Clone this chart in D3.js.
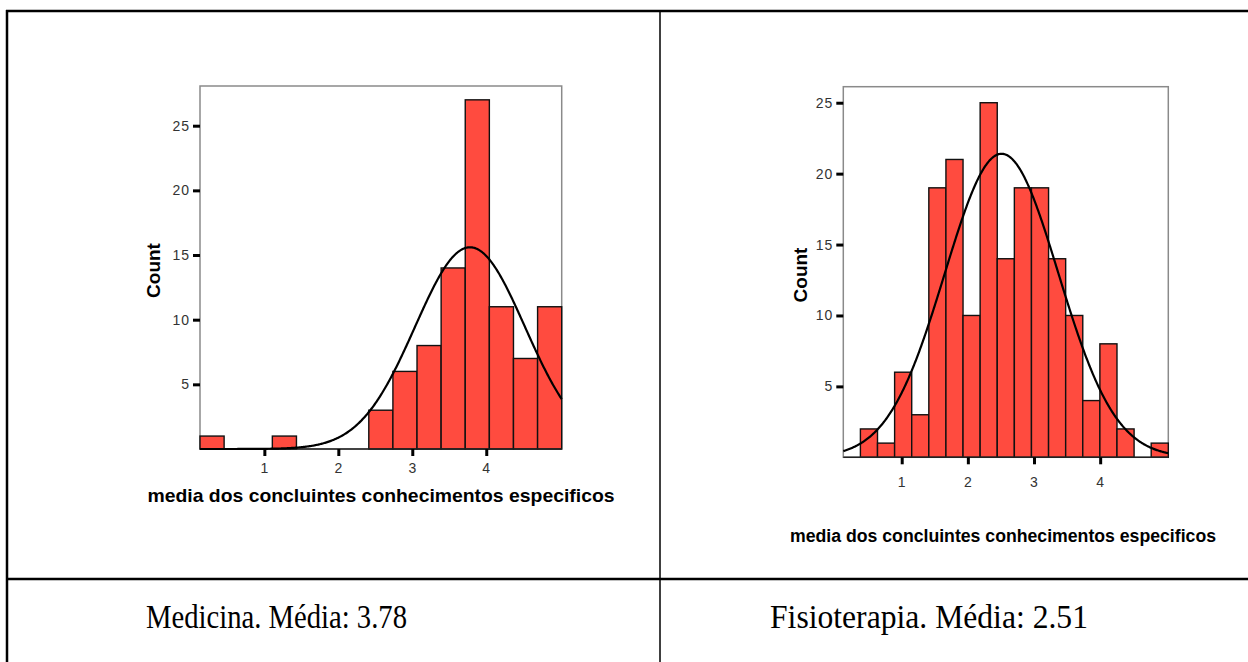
<!DOCTYPE html>
<html>
<head>
<meta charset="utf-8">
<script src="https://d3js.org/d3.v7.min.js"></script>
<style>
  body { margin: 0; background: #fff; }
  svg { display: block; }
</style>
</head>
<body>
<div id="svgdiv"></div>
<script>
// Data
var medRange = [0.13, 5.02];          // x range covered by the histogram bins
var medCounts = [1, 0, 0, 1, 0, 0, 0, 3, 6, 8, 14, 27, 11, 7, 11];
var medMean = 3.78, medSd = 0.742;

var fisRange = [0.117, 5.03];
var fisCounts = [0, 2, 1, 6, 3, 19, 21, 10, 25, 14, 19, 19, 14, 10, 4, 8, 2, 0, 1];
var fisMean = 2.51, fisSd = 0.858;

var yTicks = [5, 10, 15, 20, 25];
var xTicks = [1, 2, 3, 4];
var xTitle = "media dos concluintes conhecimentos especificos";
var captions = ["Medicina. Média: 3.78", "Fisioterapia. Média: 2.51"];

var svgWidth = 1248, svgHeight = 662;

var svg = d3.select("#svgdiv")
    .append("svg")
    .attr("width", svgWidth)
    .attr("height", svgHeight);

// table grid lines
svg.append("line").attr("x1", 6).attr("x2", svgWidth).attr("y1", 11).attr("y2", 11)
    .attr("stroke", "#000").attr("stroke-width", 2.5);
svg.append("line").attr("x1", 7).attr("x2", 7).attr("y1", 10).attr("y2", svgHeight)
    .attr("stroke", "#000").attr("stroke-width", 2.5);
svg.append("line").attr("x1", 660).attr("x2", 660).attr("y1", 11).attr("y2", svgHeight)
    .attr("stroke", "#000").attr("stroke-width", 1.5);
svg.append("line").attr("x1", 6).attr("x2", svgWidth).attr("y1", 579).attr("y2", 579)
    .attr("stroke", "#000").attr("stroke-width", 2.5);

function styleTicks(axisG) {
    axisG.select(".domain").remove();
    axisG.selectAll(".tick line").attr("stroke", "#000").attr("stroke-width", 3);
    axisG.selectAll(".tick text")
        .attr("font-family", "Liberation Sans, Arial, sans-serif")
        .attr("font-size", "14px")
        .attr("letter-spacing", "1px")
        .attr("fill", "#333");
}

function drawHist(opt) {
    var g = svg.append("g");
    var x = d3.scaleLinear().domain(opt.range).range([opt.left, opt.right]);
    var y = d3.scaleLinear().domain([0, opt.yMax]).range([opt.bottom, opt.top]);

    var n = opt.counts.length;
    var binW = (opt.range[1] - opt.range[0]) / n;
    var bins = opt.counts.map(function(c, i) {
        return { x0: opt.range[0] + i * binW, x1: opt.range[0] + (i + 1) * binW, count: c };
    });

    // frame
    g.append("rect")
        .attr("x", opt.left).attr("y", opt.top)
        .attr("width", opt.right - opt.left).attr("height", opt.bottom - opt.top)
        .attr("fill", "none").attr("stroke", "#8a8a8a").attr("stroke-width", 1.5);

    g.selectAll("rect.bar")
        .data(bins.filter(function(d) { return d.count > 0; }))
        .enter()
        .append("rect")
            .attr("class", "bar")
            .attr("x", function(d) { return x(d.x0); })
            .attr("y", function(d) { return y(d.count); })
            .attr("width", function(d) { return x(d.x1) - x(d.x0); })
            .attr("height", function(d) { return y(0) - y(d.count); })
            .attr("fill", "#ff4b3f")
            .attr("stroke", "#111")
            .attr("stroke-width", 1.4);

    // bottom line
    g.append("line")
        .attr("x1", opt.left).attr("x2", opt.right)
        .attr("y1", opt.bottom).attr("y2", opt.bottom)
        .attr("stroke", "#222").attr("stroke-width", 1.5);

    // normal curve
    var total = d3.sum(opt.counts);
    var pts = d3.range(opt.range[0], opt.range[1] + 0.001, 0.01).map(function(v) {
        var z = (v - opt.mean) / opt.sd;
        return [v, total * binW * Math.exp(-0.5 * z * z) / (opt.sd * Math.sqrt(2 * Math.PI))];
    });
    g.append("path")
        .datum(pts)
        .attr("fill", "none")
        .attr("stroke", "#000")
        .attr("stroke-width", 2.2)
        .attr("d", d3.line().x(function(d) { return x(d[0]); }).y(function(d) { return y(d[1]); }));

    // axes
    var leftAxis = d3.axisLeft(y).tickValues(yTicks).tickSize(7).tickPadding(3)
        .tickFormat(d3.format("d"));
    var yAxis = g.append("g").attr("transform", "translate(" + opt.left + ",0)").call(leftAxis);
    styleTicks(yAxis);

    var bottomAxis = d3.axisBottom(x).tickValues(xTicks).tickSize(7).tickPadding(opt.xPad)
        .tickFormat(d3.format("d"));
    var xAxis = g.append("g").attr("transform", "translate(0," + opt.bottom + ")").call(bottomAxis);
    styleTicks(xAxis);

    // titles
    g.append("text")
        .attr("transform", "translate(" + opt.countX + "," + ((opt.top + opt.bottom) / 2 + 3) + ") rotate(-90)")
        .attr("text-anchor", "middle")
        .attr("font-family", "Liberation Sans, Arial, sans-serif")
        .attr("font-weight", "bold")
        .attr("font-size", "19px")
        .text("Count");

    g.append("text")
        .attr("x", opt.titleX)
        .attr("y", opt.titleY)
        .attr("text-anchor", "middle")
        .attr("font-family", "Liberation Sans, Arial, sans-serif")
        .attr("font-weight", "bold")
        .attr("font-size", opt.titleSize + "px")
        .attr("textLength", opt.titleLen)
        .attr("lengthAdjust", "spacingAndGlyphs")
        .text(xTitle);
}

drawHist({
    range: medRange, counts: medCounts, mean: medMean, sd: medSd,
    left: 200, right: 561.7, top: 86, bottom: 449, yMax: 28.07,
    xPad: 7, countX: 160, titleX: 381, titleY: 502, titleSize: 19, titleLen: 467
});

drawHist({
    range: fisRange, counts: fisCounts, mean: fisMean, sd: fisSd,
    left: 843.3, right: 1168.3, top: 86.7, bottom: 457.3, yMax: 26.13,
    xPad: 13, countX: 806.7, titleX: 1003, titleY: 542, titleSize: 17.5, titleLen: 426
});

// captions
svg.selectAll("text.caption")
    .data(captions)
    .enter()
    .append("text")
        .attr("class", "caption")
        .attr("x", function(d, i) { return i === 0 ? 146 : 770; })
        .attr("y", 628)
        .attr("font-family", "Liberation Serif, 'Times New Roman', serif")
        .attr("font-size", "33px")
        .attr("textLength", function(d, i) { return i === 0 ? 261 : 318; })
        .attr("lengthAdjust", "spacingAndGlyphs")
        .text(function(d) { return d; });
</script>
</body>
</html>
